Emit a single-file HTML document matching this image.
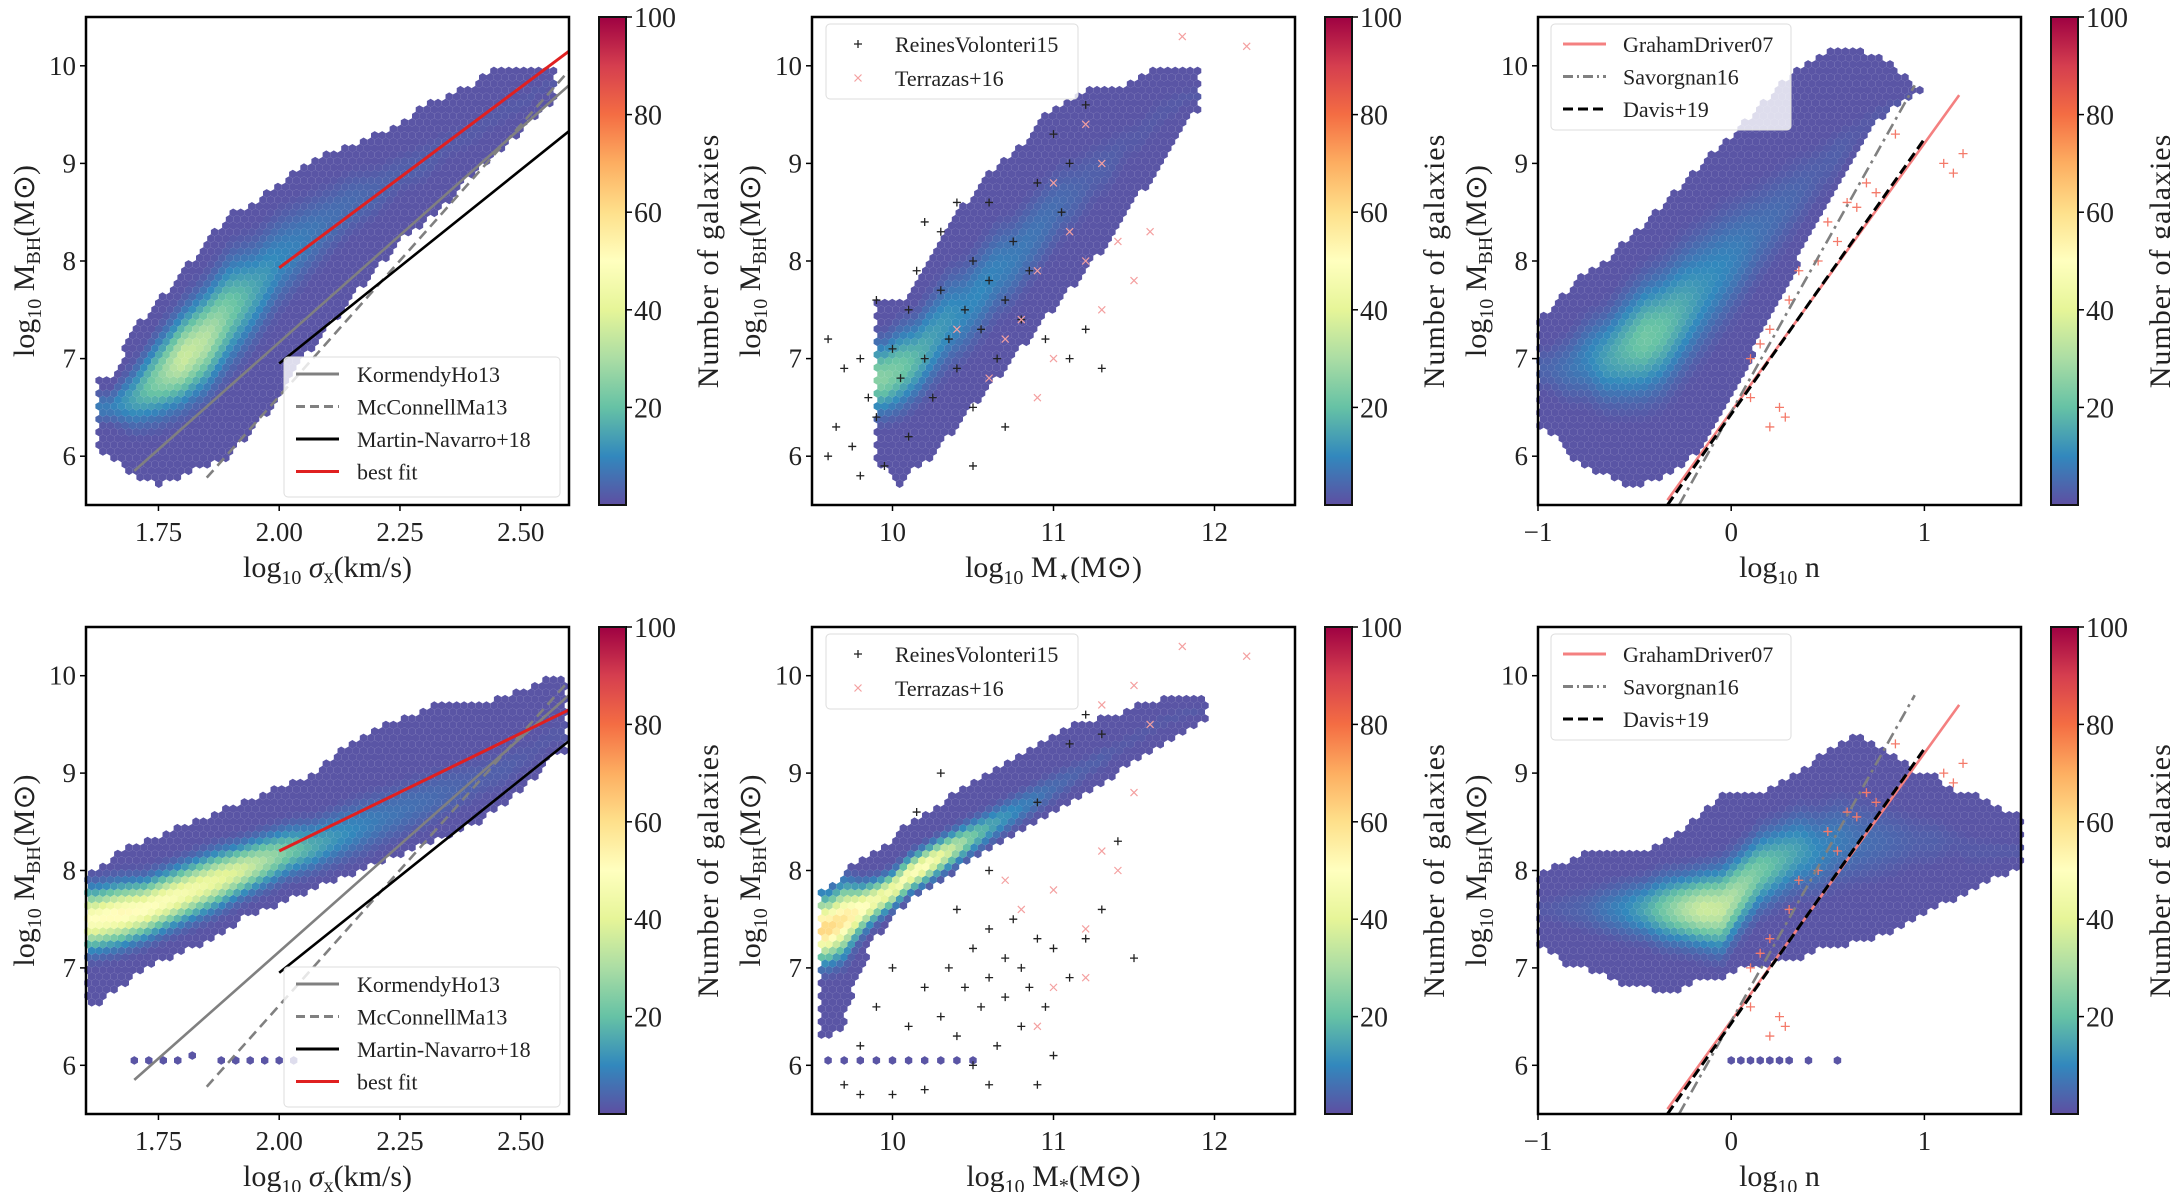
<!DOCTYPE html>
<html><head><meta charset="utf-8">
<style>
html,body{margin:0;padding:0;background:#fff;}
svg{display:block;font-family:"Liberation Serif",serif;}
</style></head>
<body>
<svg id="fig" width="2170" height="1192" viewBox="0 0 2170 1192" xmlns="http://www.w3.org/2000/svg">
<defs>
<linearGradient id="cmap" x1="0" y1="1" x2="0" y2="0">
<stop offset="0" stop-color="#5e4fa2"/><stop offset="0.1" stop-color="#3288bd"/><stop offset="0.2" stop-color="#66c2a5"/><stop offset="0.3" stop-color="#abdda4"/><stop offset="0.4" stop-color="#e6f598"/><stop offset="0.5" stop-color="#ffffbf"/><stop offset="0.6" stop-color="#fee08b"/><stop offset="0.7" stop-color="#fdae61"/><stop offset="0.8" stop-color="#f46d43"/><stop offset="0.9" stop-color="#d53e4f"/><stop offset="1" stop-color="#9e0142"/>
</linearGradient>
</defs>
</svg>
<script>
// ---------- data ----------
// Panel A: sigma (top)
const aCols=[1.65,1.70,1.75,1.80,1.85,1.90,1.95,2.00,2.05,2.10,2.15,2.20,2.25,2.30,2.35,2.40,2.45,2.50,2.55];
const aLo=[6.0,5.8,5.7,5.8,5.9,6.0,6.3,6.6,7.0,7.3,7.6,7.9,8.2,8.4,8.6,8.9,9.1,9.3,9.6];
const aHi=[6.8,7.3,7.6,7.9,8.2,8.5,8.6,8.8,9.0,9.1,9.2,9.3,9.4,9.6,9.7,9.8,10.0,10.0,10.0];
const aPk=[6.5,6.6,6.8,7.0,7.2,7.5,7.7,8.0,8.2,8.4,8.6,8.7,8.9,9.0,9.2,9.3,9.5,9.6,9.8];
const aCnt=[8,15,25,36,32,22,15,10,8,6,5,4,3,3,2,2,2,2,2];
// Panel B: stellar mass (top)
const bCols=[9.95,10.05,10.15,10.25,10.35,10.45,10.55,10.65,10.75,10.85,10.95,11.05,11.15,11.25,11.35,11.45,11.55,11.65,11.75,11.85];
const bLo=[5.9,5.7,5.9,6.0,6.2,6.4,6.6,6.8,7.0,7.2,7.4,7.6,7.8,8.0,8.2,8.5,8.7,8.9,9.2,9.5];
const bHi=[7.6,7.6,7.8,8.1,8.4,8.6,8.8,9.0,9.1,9.3,9.5,9.6,9.7,9.8,9.8,9.8,9.9,10.0,10.0,10.0];
const bPk=[6.8,6.9,7.0,7.2,7.4,7.5,7.7,7.9,8.0,8.2,8.4,8.6,8.7,8.9,9.0,9.2,9.3,9.5,9.6,9.7];
const bCnt=[25,22,18,14,12,10,10,9,8,7,6,5,4,3,3,2,2,2,2,2];
// Panel C: Sersic n (top)
const cCols=[-0.95,-0.85,-0.75,-0.65,-0.55,-0.45,-0.35,-0.25,-0.15,-0.05,0.05,0.15,0.25,0.35,0.45,0.55,0.65,0.75,0.85,0.95];
const cLo=[6.3,6.0,5.9,5.8,5.7,5.7,5.8,5.9,6.1,6.4,6.8,7.2,7.6,8.0,8.4,8.8,9.1,9.4,9.6,9.7];
const cHi=[7.5,7.7,7.9,8.0,8.2,8.4,8.6,8.8,9.0,9.2,9.4,9.6,9.8,10.0,10.1,10.2,10.2,10.1,10.0,9.8];
const cPk=[6.9,6.9,7.0,7.0,7.1,7.2,7.3,7.5,7.7,7.9,8.1,8.3,8.5,8.7,8.9,9.1,9.3,9.5,9.6,9.7];
const cCnt=[4,6,9,14,18,22,20,16,12,10,8,6,5,4,3,3,2,2,2,2];
// Panel D: sigma (bottom)
const dCols=[1.62,1.67,1.72,1.77,1.82,1.87,1.92,1.97,2.02,2.07,2.12,2.17,2.22,2.27,2.32,2.37,2.42,2.47,2.52,2.57];
const dLo=[6.6,6.8,7.0,7.1,7.2,7.3,7.5,7.6,7.7,7.8,7.9,8.0,8.1,8.2,8.3,8.4,8.5,8.7,8.9,9.2];
const dHi=[8.0,8.2,8.3,8.4,8.5,8.6,8.7,8.8,8.9,9.0,9.2,9.4,9.5,9.6,9.7,9.7,9.7,9.8,9.9,10.0];
const dPk=[7.5,7.55,7.6,7.7,7.8,7.9,8.0,8.1,8.2,8.25,8.35,8.45,8.55,8.65,8.75,8.85,8.95,9.05,9.2,9.4];
const dCnt=[50,52,50,48,45,42,38,30,22,16,12,9,7,6,5,4,3,3,2,2];
// Panel E: stellar mass (bottom)
const eCols=[9.6,9.7,9.8,9.9,10.0,10.1,10.2,10.3,10.4,10.5,10.6,10.7,10.8,10.9,11.0,11.1,11.2,11.3,11.4,11.5,11.6,11.7,11.8,11.9];
const eLo=[6.3,6.4,7.0,7.3,7.5,7.7,7.8,7.9,8.0,8.1,8.2,8.3,8.4,8.5,8.6,8.7,8.8,8.9,9.0,9.1,9.2,9.3,9.4,9.5];
const eHi=[7.8,8.0,8.1,8.2,8.3,8.5,8.6,8.7,8.8,8.9,9.0,9.1,9.2,9.3,9.4,9.5,9.5,9.6,9.6,9.7,9.7,9.8,9.8,9.8];
const ePk=[7.4,7.5,7.6,7.7,7.8,7.95,8.05,8.15,8.25,8.35,8.45,8.55,8.65,8.75,8.85,8.95,9.05,9.15,9.25,9.35,9.45,9.55,9.6,9.65];
const eCnt=[62,58,52,45,45,48,50,42,32,22,16,12,9,7,5,4,3,3,2,2,2,2,2,2];
// Panel F: Sersic n (bottom)
const fCols=[-0.95,-0.85,-0.75,-0.65,-0.55,-0.45,-0.35,-0.25,-0.15,-0.05,0.05,0.15,0.25,0.35,0.45,0.55,0.65,0.75,0.85,0.95,1.05,1.15,1.25,1.35,1.45];
const fLo=[7.2,7.0,7.0,6.9,6.8,6.8,6.7,6.8,6.9,6.9,7.0,7.0,7.1,7.1,7.2,7.2,7.3,7.3,7.4,7.5,7.6,7.7,7.8,7.9,8.0];
const fHi=[8.0,8.1,8.2,8.2,8.2,8.2,8.3,8.4,8.6,8.8,8.8,8.8,8.9,9.0,9.2,9.3,9.4,9.3,9.2,9.0,9.0,8.8,8.8,8.7,8.6];
const fPk=[7.6,7.6,7.6,7.6,7.6,7.6,7.6,7.6,7.6,7.6,7.8,8.0,8.1,8.2,8.2,8.3,8.3,8.3,8.3,8.3,8.3,8.3,8.2,8.2,8.2];
const fCnt=[2,3,4,7,10,15,22,30,36,35,28,22,18,14,10,8,6,5,4,3,3,2,2,2,2];
// isolated low row of hexes (bottom panels)
const dLowX=[1.70,1.73,1.76,1.79,1.82,1.88,1.91,1.94,1.97,2.00,2.03];
const dLowY=[6.05,6.05,6.05,6.05,6.1,6.05,6.05,6.05,6.05,6.05,6.05];
const eLowX=[9.6,9.7,9.8,9.9,10.0,10.1,10.2,10.3,10.4,10.5];
const eLowY=[6.05,6.05,6.05,6.05,6.05,6.05,6.05,6.05,6.05,6.05];
const fLowX=[0.0,0.05,0.1,0.15,0.2,0.25,0.3,0.4,0.55];
const fLowY=[6.05,6.05,6.05,6.05,6.05,6.05,6.05,6.05,6.05];

// observational samples
const rvTopX=[9.6,9.65,9.7,9.75,9.8,9.85,9.9,9.95,9.9,10.0,10.05,10.1,10.1,10.15,10.2,10.25,10.3,10.3,10.35,10.4,10.45,10.5,10.5,10.55,10.6,10.6,10.65,10.7,10.7,10.75,10.8,10.85,10.9,10.95,11.0,11.05,11.1,11.2,11.1,10.4,10.2,9.6,9.8,10.5,11.3,11.2];
const rvTopY=[7.2,6.3,6.9,6.1,7.0,6.6,6.4,5.9,7.6,7.1,6.8,7.5,6.2,7.9,7.0,6.6,7.7,8.3,7.2,6.9,7.5,8.0,6.5,7.3,7.8,8.6,7.0,7.6,6.3,8.2,7.4,7.9,8.8,7.2,9.3,8.5,7.0,9.6,9.0,8.6,8.4,6.0,5.8,5.9,6.9,7.3];
const tzTopX=[10.6,10.8,10.9,11.0,11.1,11.2,11.3,11.4,11.5,11.3,11.0,10.7,11.2,11.6,10.4,10.9,12.2,11.8];
const tzTopY=[6.8,7.4,7.9,7.0,8.3,8.0,7.5,8.2,7.8,9.0,8.8,7.2,9.4,8.3,7.3,6.6,10.2,10.3];
const rvBotX=[10.3,10.35,10.4,10.45,10.5,10.5,10.55,10.6,10.6,10.65,10.7,10.7,10.75,10.8,10.8,10.85,10.9,10.95,11.0,11.0,11.1,11.2,10.2,10.1,10.0,9.9,9.8,9.7,9.8,10.0,10.2,10.6,10.9,10.4,10.6,10.9,11.1,11.2,11.3,11.4,11.5,11.3,10.15,10.3];
const rvBotY=[6.5,7.0,6.3,6.8,7.2,6.0,6.6,7.4,6.9,6.2,7.1,6.7,7.5,6.4,7.0,6.8,7.3,6.6,7.2,6.1,6.9,7.3,6.8,6.4,7.0,6.6,6.2,5.8,5.7,5.7,5.75,5.8,5.8,7.6,8.0,8.7,9.3,9.6,9.4,8.3,7.1,7.6,8.6,9.0];
const tzBotX=[10.8,11.0,11.2,11.3,11.4,11.5,11.6,11.3,11.0,10.9,11.2,12.2,11.8,10.7,11.5];
const tzBotY=[7.6,7.8,7.4,8.2,8.0,8.8,9.5,9.7,6.8,6.4,6.9,10.2,10.3,7.9,9.9];
const gdX=[0.1,0.15,0.2,0.3,0.35,0.45,0.5,0.55,0.6,0.65,0.7,0.75,0.85,1.1,1.15,1.2,0.2,0.1,0.28,0.25];
const gdY=[7.0,7.15,7.3,7.6,7.9,8.0,8.4,8.2,8.6,8.55,8.8,8.7,9.3,9.0,8.9,9.1,6.3,6.6,6.4,6.5];

// scaling relations [x0,y0,x1,y1]
const kormendy=[1.70,5.85,2.60,9.80];
const mcconnell=[1.85,5.78,2.60,9.95];
const martin=[2.00,6.95,2.60,9.33];
const bestTop=[2.00,7.93,2.60,10.15];
const bestBot=[2.00,8.20,2.60,9.65];
const graham=[-0.33,5.55,1.18,9.70];
const savorgnan=[-0.27,5.50,0.95,9.80];
const davis=[-0.33,5.50,1.00,9.25];

const yTicks=[6,7,8,9,10];
const sigTicks=[1.75,2.00,2.25,2.50];
const sigTickLabels=["1.75","2.00","2.25","2.50"];
const mTicks=[10,11,12];
const mTickLabels=["10","11","12"];
const nTicks=[-1,0,1];
const nTickLabels=["\u22121","0","1"];
const cbTicks=[20,40,60,80,100];

// ---------- drawing ----------
const NS="http://www.w3.org/2000/svg";
const svg=document.getElementById('fig');
function mk(tag,attrs,parent){const e=document.createElementNS(NS,tag);for(const k in attrs)e.setAttribute(k,attrs[k]);(parent||svg).appendChild(e);return e;}
const stops=[[0,[94,79,162]],[0.1,[50,136,189]],[0.2,[102,194,165]],[0.3,[171,221,164]],[0.4,[230,245,152]],[0.5,[255,255,191]],[0.6,[254,224,139]],[0.7,[253,174,97]],[0.8,[244,109,67]],[0.9,[213,62,79]],[1,[158,1,66]]];
function cmap(t){t=Math.max(0,Math.min(1,t));for(let i=1;i<stops.length;i++){if(t<=stops[i][0]){const a=stops[i-1],b=stops[i];const f=(t-a[0])/(b[0]-a[0]);const c=a[1].map((v,j)=>Math.round(v+(b[1][j]-v)*f));return `rgb(${c[0]},${c[1]},${c[2]})`;}}return 'rgb(158,1,66)';}
function interp(cols,arr,x){if(x<=cols[0])return arr[0];for(let i=1;i<cols.length;i++){if(x<=cols[i]){const f=(x-cols[i-1])/(cols[i]-cols[i-1]);return arr[i-1]+(arr[i]-arr[i-1])*f;}}return arr[arr.length-1];}

function panel(o){
  const {L,R,T,B,xmin,xmax}=o;const ymin=5.5,ymax=10.5;
  const sx=v=>L+(v-xmin)/(xmax-xmin)*(R-L);
  const sy=v=>B-(v-ymin)/(ymax-ymin)*(B-T);
  const g=mk('g',{});
  
  
  mk('rect',{x:L,y:T,width:R-L,height:B-T,fill:'#fff'},g);
  const hg=mk('g',{},g);
  
  
  const r=4.3,dx=Math.sqrt(3)*r,dy=1.5*r;
  const hexPath=(cx,cy)=>{let p='';for(let k=0;k<6;k++){const a=Math.PI/180*(60*k-90);p+=(k?'L':'M')+(cx+r*Math.cos(a)).toFixed(1)+','+(cy+r*Math.sin(a)).toFixed(1);}return p+'Z';};
  const c0=o.cols[0],c1=o.cols[o.cols.length-1],half=(o.cols[1]-o.cols[0])/2;
  let row=0;
  for(let cy=B-2;cy>T;cy-=dy,row++){
    const off=(row%2)?dx/2:0;
    for(let cx=L+2+off;cx<R;cx+=dx){
      const xv=xmin+(cx-L)/(R-L)*(xmax-xmin);
      if(xv<c0-half||xv>c1+half)continue;
      const yv=ymin+(B-cy)/(B-T)*(ymax-ymin);
      const lo=interp(o.cols,o.lo,xv),hi=interp(o.cols,o.hi,xv);
      if(yv<lo||yv>hi)continue;
      const pk=interp(o.cols,o.pk,xv),cn=interp(o.cols,o.cnt,xv);
      const w=(hi-lo)/5.5;
      const c=Math.max(1,cn*Math.exp(-Math.pow((yv-pk)/w,2)));
      const h=mk('path',{d:hexPath(cx,cy),fill:cmap(c/100)},hg);
      
      
    }
  }
  if(o.lowX){for(let i=0;i<o.lowX.length;i++){const h=mk('path',{d:hexPath(sx(o.lowX[i]),sy(o.lowY[i])),fill:cmap(0.01)},hg);
    
    }}
  const mkPlus=(X,Y,col,nm,sz)=>{for(let i=0;i<X.length;i++){const x=sx(X[i]),y=sy(Y[i]);const p=mk('path',{d:`M${x-sz},${y}H${x+sz}M${x},${y-sz}V${y+sz}`,stroke:col,'stroke-width':1.3},g);
    
    }};
  const mkCross=(X,Y,col,nm)=>{for(let i=0;i<X.length;i++){const x=sx(X[i]),y=sy(Y[i]),s=3.5;const p=mk('path',{d:`M${x-s},${y-s}L${x+s},${y+s}M${x-s},${y+s}L${x+s},${y-s}`,stroke:col,'stroke-width':1.2},g);
    
    }};
  if(o.rvX){mkPlus(o.rvX,o.rvY,'#222','reines-volonteri-point',4);mkCross(o.tzX,o.tzY,'#f4a0a0','terrazas-point');}
  if(o.gd){mkPlus(gdX,gdY,'#f47a6a','sample-point',4.5);}
  const clip='clip'+o.id;
  const cp=mk('clipPath',{id:clip},g);mk('rect',{x:L,y:T,width:R-L,height:B-T},cp);
  (o.lines||[]).forEach(ln=>{const d=ln.d;const e=mk('line',{x1:sx(d[0]),y1:sy(d[1]),x2:sx(d[2]),y2:sy(d[3]),stroke:ln.c,'stroke-width':ln.w||2.6,'clip-path':`url(#${clip})`},g);
    if(ln.dash)e.setAttribute('stroke-dasharray',ln.dash);
    
    });
  mk('rect',{x:L,y:T,width:R-L,height:B-T,fill:'none',stroke:'#000','stroke-width':2.5},g);
  yTicks.forEach(v=>{const y=sy(v);mk('line',{x1:L-6,y1:y,x2:L,y2:y,stroke:'#000','stroke-width':1.5},g);
    const t=mk('text',{x:L-10,y:y+9,'text-anchor':'end','font-size':27,fill:'#222'},g);t.textContent=v;
    
    });
  o.xt.forEach((v,i)=>{const x=sx(v);mk('line',{x1:x,y1:B,x2:x,y2:B+6,stroke:'#000','stroke-width':1.5},g);
    const t=mk('text',{x:x,y:B+36,'text-anchor':'middle','font-size':27,fill:'#222'},g);t.textContent=o.xl[i];
    
    });
  const yl=mk('text',{transform:`translate(${L-52},${(T+B)/2}) rotate(-90)`,'text-anchor':'middle','font-size':30,fill:'#222'},g);
  yl.innerHTML='log<tspan font-size="20" dy="7">10</tspan><tspan dy="-7"> M</tspan><tspan font-size="20" dy="6">BH</tspan><tspan dy="-6">(M</tspan><tspan>\u2299</tspan><tspan>)</tspan>';
  
  
  const xl=mk('text',{x:(L+R)/2,y:B+72,'text-anchor':'middle','font-size':30,fill:'#222'},g);
  xl.innerHTML=o.xlabel;
  
  
  const cbx=R+30,cbw=27;
  const cb=mk('rect',{x:cbx,y:T,width:cbw,height:B-T,fill:'url(#cmap)',stroke:'#111','stroke-width':2},g);
  
  
  cbTicks.forEach(v=>{const y=B-(v/100)*(B-T);mk('line',{x1:cbx+cbw,y1:y,x2:cbx+cbw+6,y2:y,stroke:'#000','stroke-width':1.5},g);
    const t=mk('text',{x:cbx+cbw+8,y:y+10,'font-size':28,fill:'#222'},g);t.textContent=v;
    
    });
  const cl=mk('text',{transform:`translate(${cbx+cbw+92},${(T+B)/2}) rotate(-90)`,'text-anchor':'middle','font-size':30,fill:'#222','letter-spacing':'1'},g);
  cl.textContent='Number of galaxies';
  
  
  if(o.legend){const lg=o.legend;const box=mk('rect',{x:lg.x,y:lg.y,width:lg.w,height:lg.h,rx:4,fill:'rgba(255,255,255,0.8)',stroke:'#ddd','stroke-width':1},g);
    
    
    lg.items.forEach((it,i)=>{const y=lg.y+lg.y0+i*lg.step;
      if(it.type==='line'){const e=mk('line',{x1:lg.x+12,y1:y,x2:lg.x+55,y2:y,stroke:it.c,'stroke-width':3},g);if(it.dash)e.setAttribute('stroke-dasharray',it.dash);
        
        }
      else if(it.type==='plus'){const x=lg.x+32;mk('path',{d:`M${x-4},${y}H${x+4}M${x},${y-4}V${y+4}`,stroke:'#222','stroke-width':1.3},g);}
      else {const x=lg.x+32,s=3.5;mk('path',{d:`M${x-s},${y-s}L${x+s},${y+s}M${x-s},${y+s}L${x+s},${y-s}`,stroke:'#f4a0a0','stroke-width':1.2},g);}
      const t=mk('text',{x:lg.x+lg.tx,y:y+8,'font-size':22,fill:'#222'},g);t.textContent=it.label;
      
      });}
}
const X1=[86,569],X2=[812,1295],X3=[1538,2021];
const ROWS=[[17,505],[627,1114]];
const sigLabel='log<tspan font-size="20" dy="7">10</tspan><tspan dy="-7"> </tspan><tspan font-style="italic">σ</tspan><tspan font-size="20" dy="6">x</tspan><tspan dy="-6">(km/s)</tspan>';
const mLabelTop='log<tspan font-size="20" dy="7">10</tspan><tspan dy="-7"> M</tspan><tspan font-size="20" dy="6">⋆</tspan><tspan dy="-6">(M</tspan><tspan>⊙</tspan><tspan>)</tspan>';
const mLabelBot='log<tspan font-size="20" dy="7">10</tspan><tspan dy="-7"> M</tspan><tspan font-size="20" dy="6">*</tspan><tspan dy="-6">(M</tspan><tspan>⊙</tspan><tspan>)</tspan>';
const nLabel='log<tspan font-size="20" dy="7">10</tspan><tspan dy="-7"> n</tspan>';
function sigLegend(y){return {x:284,y:y,w:276,h:140,y0:17,step:32.5,tx:73,items:[{type:'line',c:'#808080',label:'KormendyHo13'},{type:'line',c:'#808080',dash:'9,5',label:'McConnellMa13'},{type:'line',c:'#000',label:'Martin-Navarro+18'},{type:'line',c:'#e02020',label:'best fit'}]};}
function mLegend(y){return {x:826,y:y,w:252,h:75,y0:20,step:34,tx:69,items:[{type:'plus',label:'ReinesVolonteri15'},{type:'cross',label:'Terrazas+16'}]};}
function nLegend(y){return {x:1551,y:y,w:240,h:106,y0:20,step:32.5,tx:72,items:[{type:'line',c:'#f48080',label:'GrahamDriver07'},{type:'line',c:'#808080',dash:'10,4,2,4',label:'Savorgnan16'},{type:'line',c:'#000',dash:'10,5',label:'Davis+19'}]};}
function sigLines(best){return [{d:kormendy,c:'#808080',name:'kormendy-ho13-line'},{d:mcconnell,c:'#808080',dash:'10,6',name:'mcconnell-ma13-line'},{d:martin,c:'#000',name:'martin-navarro18-line'},{d:best,c:'#e02020',w:3,name:'best-fit-line'}];}
const nLines=[{d:graham,c:'#f48080',name:'graham-driver07-line'},{d:savorgnan,c:'#808080',dash:'12,5,3,5',name:'savorgnan16-line'},{d:davis,c:'#000',dash:'10,5',w:3,name:'davis19-line'}];

panel({id:'a',name:'panel-sigma-top',L:X1[0],R:X1[1],T:ROWS[0][0],B:ROWS[0][1],xmin:1.6,xmax:2.6,cols:aCols,lo:aLo,hi:aHi,pk:aPk,cnt:aCnt,xt:sigTicks,xl:sigTickLabels,xlabel:sigLabel,lines:sigLines(bestTop),legend:sigLegend(357)});
panel({id:'b',name:'panel-mstar-top',L:X2[0],R:X2[1],T:ROWS[0][0],B:ROWS[0][1],xmin:9.5,xmax:12.5,cols:bCols,lo:bLo,hi:bHi,pk:bPk,cnt:bCnt,xt:mTicks,xl:mTickLabels,xlabel:mLabelTop,rvX:rvTopX,rvY:rvTopY,tzX:tzTopX,tzY:tzTopY,legend:mLegend(24)});
panel({id:'c',name:'panel-sersic-top',L:X3[0],R:X3[1],T:ROWS[0][0],B:ROWS[0][1],xmin:-1,xmax:1.5,cols:cCols,lo:cLo,hi:cHi,pk:cPk,cnt:cCnt,xt:nTicks,xl:nTickLabels,xlabel:nLabel,gd:true,lines:nLines,legend:nLegend(24)});
panel({id:'d',name:'panel-sigma-bottom',L:X1[0],R:X1[1],T:ROWS[1][0],B:ROWS[1][1],xmin:1.6,xmax:2.6,cols:dCols,lo:dLo,hi:dHi,pk:dPk,cnt:dCnt,lowX:dLowX,lowY:dLowY,xt:sigTicks,xl:sigTickLabels,xlabel:sigLabel,lines:sigLines(bestBot),legend:sigLegend(967)});
panel({id:'e',name:'panel-mstar-bottom',L:X2[0],R:X2[1],T:ROWS[1][0],B:ROWS[1][1],xmin:9.5,xmax:12.5,cols:eCols,lo:eLo,hi:eHi,pk:ePk,cnt:eCnt,lowX:eLowX,lowY:eLowY,xt:mTicks,xl:mTickLabels,xlabel:mLabelBot,rvX:rvBotX,rvY:rvBotY,tzX:tzBotX,tzY:tzBotY,legend:mLegend(634)});
panel({id:'f',name:'panel-sersic-bottom',L:X3[0],R:X3[1],T:ROWS[1][0],B:ROWS[1][1],xmin:-1,xmax:1.5,cols:fCols,lo:fLo,hi:fHi,pk:fPk,cnt:fCnt,lowX:fLowX,lowY:fLowY,xt:nTicks,xl:nTickLabels,xlabel:nLabel,gd:true,lines:nLines,legend:nLegend(634)});
</script>
</body></html>
